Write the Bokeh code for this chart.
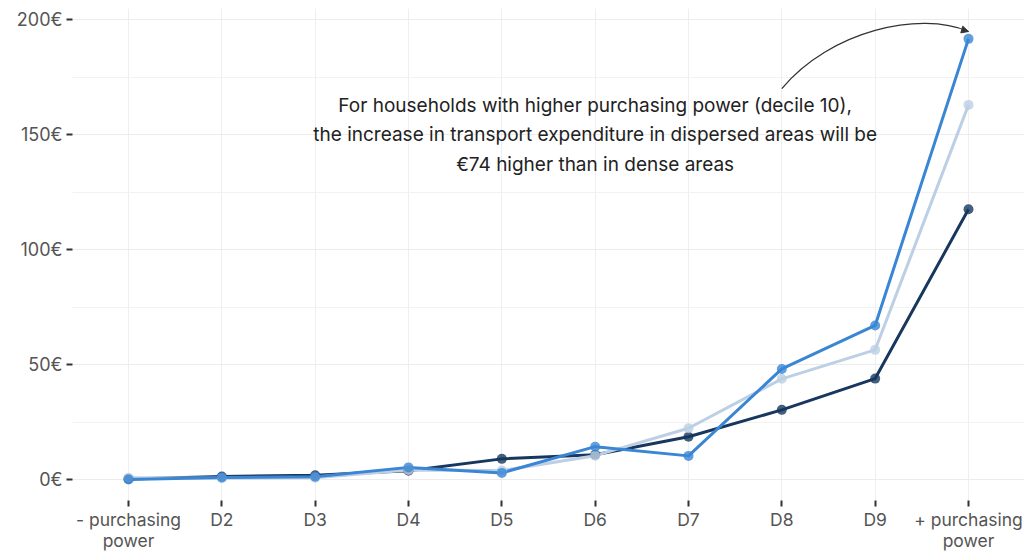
from bokeh.plotting import figure
from bokeh.models import FixedTicker, Label, Arrow, NormalHead
from bokeh.embed import file_html
from bokeh.resources import INLINE

# ---- data ----
categories = ["- purchasing\npower", "D2", "D3", "D4", "D5", "D6", "D7", "D8", "D9", "+ purchasing\npower"]
dense = [0.3, 1.3, 1.9, 3.8, 9.0, 10.8, 18.6, 30.3, 43.9, 117.5]
intermediate = [0.8, 0.6, 0.8, 4.2, 3.9, 10.4, 22.3, 43.8, 56.4, 162.9]
dispersed = [0.0, 0.9, 1.2, 5.3, 2.9, 14.3, 10.3, 48.1, 67.0, 191.6]
y_ticks = [0, 50, 100, 150, 200]
y_minor = [25, 75, 125, 175]
annotation_lines = [
    "For households with higher purchasing power (decile 10),",
    "the increase in transport expenditure in dispersed areas will be",
    "\u20ac74 higher than in dense areas",
]

FONT = "Inter"
xs = list(range(1, len(categories) + 1))

p = figure(width=1027, height=551, frame_width=952, frame_height=492,
           x_range=(0.4, 10.6), y_range=(-9.1, 204.8),
           output_backend="svg", toolbar_location=None,
           min_border_left=72, min_border_right=3, min_border_top=8, min_border_bottom=51)
p.outline_line_color = None
p.background_fill_color = "white"
p.border_fill_color = "white"

# axes
p.xaxis.ticker = FixedTicker(ticks=xs)
p.xaxis.major_label_overrides = {x: c for x, c in zip(xs, categories)}
p.yaxis.ticker = FixedTicker(ticks=y_ticks, minor_ticks=y_minor)
p.yaxis.major_label_overrides = {t: f"{t}\u20ac" for t in y_ticks}
for ax in (p.xaxis[0], p.yaxis[0]):
    ax.axis_line_color = None
    ax.major_tick_line_color = "#333333"
    ax.major_tick_line_width = 2
    ax.major_tick_out = 6
    ax.major_tick_in = 0
    ax.minor_tick_out = 0
    ax.minor_tick_in = 0
    ax.major_label_text_font = FONT
    ax.major_label_text_font_size = "18px"
    ax.major_label_text_color = "#555555"
p.xaxis.major_label_text_font_size = "17.5px"
p.xaxis.major_label_text_line_height = 1.04
p.xaxis.major_label_standoff = 2
p.yaxis.major_label_standoff = 4

p.xgrid.ticker = FixedTicker(ticks=xs)
p.xgrid.grid_line_color = "#efefef"
p.ygrid.grid_line_color = "#ececec"
p.ygrid.minor_grid_line_color = "#f2f2f2"

colors = {"dense": "#17375e", "intermediate": "#bccfe4", "dispersed": "#3a86d4"}
series = [("dense", dense), ("intermediate", intermediate), ("dispersed", dispersed)]

for name, vals in series:
    p.line(xs, vals, line_color=colors[name], line_width=3)
for name, vals in series:
    p.scatter(xs, vals, size=10, fill_color=colors[name], fill_alpha=0.8, line_color=None)

# annotation text
text_x = 6
text_ys = [162.6, 150.0, 137.0]
for t, ty in zip(annotation_lines, text_ys):
    p.add_layout(Label(x=text_x, y=ty, text=t, text_align="center", text_baseline="middle",
                       text_font=FONT, text_font_size="19px", text_color="#222222"))

# curved arrow pointing at the dispersed decile-10 point
end_x = xs[-1]
end_y = dispersed[-1] + 3.2
p.bezier(x0=[8.0], y0=[170.0], x1=[end_x], y1=[end_y],
         cx0=[8.52], cy0=[195.2], cx1=[9.48], cy1=[203.9],
         line_color="#333333", line_width=1.3)
p.add_layout(Arrow(end=NormalHead(size=7, fill_color="#333333", line_color="#333333"),
                   x_start=9.85, y_start=end_y + 1.8, x_end=end_x, y_end=end_y,
                   line_alpha=0))

open("out.html", "w").write(file_html(p, INLINE))
